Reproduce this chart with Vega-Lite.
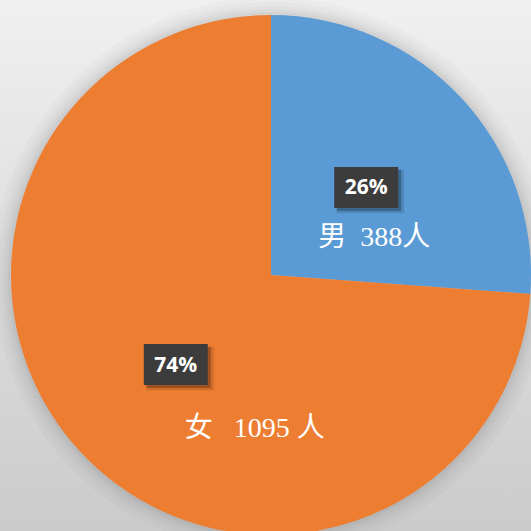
{
  "$schema": "https://vega.github.io/schema/vega-lite/v6.json",
  "width": 531,
  "height": 531,
  "autosize": {"type": "fit", "contains": "padding"},
  "padding": {"left": 11, "top": 19, "right": 0, "bottom": 0},
  "background": "#e6e6e6",
  "config": {"view": {"stroke": null}},
  "datasets": {
    "people": [
      {"gender": "男", "count": 388, "pct": "26%", "label": "男\u2002388人"},
      {"gender": "女", "count": 1095, "pct": "74%", "label": "女\u2002 1095 人"}
    ],
    "one": [{"item": "bg"}]
  },
  "layer": [
    {
      "data": {"name": "one"},
      "mark": {"type": "arc", "radius": 420,
        "fill": {"gradient": "linear", "x1": 0, "y1": 0.173, "x2": 0, "y2": 0.805,
          "stops": [{"offset": 0, "color": "#f0f0f0"}, {"offset": 1, "color": "#cbcbcb"}]}},
      "encoding": {}
    },
    {"data": {"name": "one"}, "mark": {"type": "arc", "radius": 278, "fill": "#000000", "opacity": 0.02}, "encoding": {}},
    {"data": {"name": "one"}, "mark": {"type": "arc", "radius": 273, "fill": "#000000", "opacity": 0.02}, "encoding": {}},
    {"data": {"name": "one"}, "mark": {"type": "arc", "radius": 269, "fill": "#000000", "opacity": 0.02}, "encoding": {}},
    {"data": {"name": "one"}, "mark": {"type": "arc", "radius": 266, "fill": "#000000", "opacity": 0.025}, "encoding": {}},
    {"data": {"name": "one"}, "mark": {"type": "arc", "radius": 263, "fill": "#000000", "opacity": 0.03}, "encoding": {}},
    {
      "data": {"name": "people"},
      "mark": {"type": "arc", "radius": 260},
      "encoding": {
        "theta": {"field": "count", "type": "quantitative", "stack": true},
        "order": {"field": "count", "type": "quantitative", "sort": "ascending"},
        "color": {"field": "gender", "type": "nominal",
          "scale": {"domain": ["男", "女"], "range": ["#5b9bd5", "#ed7d31"]}, "legend": null}
      }
    },
    {
      "data": {"name": "people"},
      "transform": [
        {"stack": "count", "groupby": [], "sort": [{"field": "count", "order": "ascending"}], "offset": "normalize", "as": ["s0", "s1"]}
      ],
      "mark": {"type": "point", "shape": "M-1,-0.64H1V0.64H-1Z", "size": 4624, "filled": true,
        "fill": "#000000", "opacity": 0.12, "strokeWidth": 0,
        "xOffset": {"expr": "130*sin(PI*(datum.s0+datum.s1)) + 4"},
        "yOffset": {"expr": "-130*cos(PI*(datum.s0+datum.s1)) + 5"}},
      "encoding": {}
    },
    {
      "data": {"name": "people"},
      "transform": [
        {"stack": "count", "groupby": [], "sort": [{"field": "count", "order": "ascending"}], "offset": "normalize", "as": ["s0", "s1"]}
      ],
      "mark": {"type": "point", "shape": "M-1,-0.64H1V0.64H-1Z", "size": 4096, "filled": true,
        "fill": "#000000", "opacity": 0.25, "strokeWidth": 0,
        "xOffset": {"expr": "130*sin(PI*(datum.s0+datum.s1)) + 3"},
        "yOffset": {"expr": "-130*cos(PI*(datum.s0+datum.s1)) + 4"}},
      "encoding": {}
    },
    {
      "data": {"name": "people"},
      "transform": [
        {"stack": "count", "groupby": [], "sort": [{"field": "count", "order": "ascending"}], "offset": "normalize", "as": ["s0", "s1"]}
      ],
      "mark": {"type": "point", "shape": "M-1,-0.64H1V0.64H-1Z", "size": 4096, "filled": true,
        "fill": "#3c3c3c", "opacity": 1, "strokeWidth": 0,
        "xOffset": {"expr": "130*sin(PI*(datum.s0+datum.s1))"},
        "yOffset": {"expr": "-130*cos(PI*(datum.s0+datum.s1)) + 1"}},
      "encoding": {}
    },
    {
      "data": {"name": "people"},
      "mark": {"type": "text", "radius": 130, "font": "Open Sans", "fontWeight": "bold", "fontSize": 21,
        "fill": "#ffffff", "baseline": "middle", "align": "center", "dy": 2},
      "encoding": {
        "theta": {"field": "count", "type": "quantitative", "stack": true},
        "order": {"field": "count", "type": "quantitative", "sort": "ascending"},
        "text": {"field": "pct", "type": "nominal"}
      }
    },
    {
      "data": {"name": "people"},
      "mark": {"type": "text", "radius": 130, "font": "Liberation Serif, Noto Sans CJK SC", "fontSize": 28,
        "fill": "#ffffff", "baseline": "middle", "align": "center",
        "dx": {"expr": "datum.gender === '男' ? 8 : 79"},
        "dy": {"expr": "datum.gender === '男' ? 52 : 65"}},
      "encoding": {
        "theta": {"field": "count", "type": "quantitative", "stack": true},
        "order": {"field": "count", "type": "quantitative", "sort": "ascending"},
        "text": {"field": "label", "type": "nominal"}
      }
    }
  ]
}
